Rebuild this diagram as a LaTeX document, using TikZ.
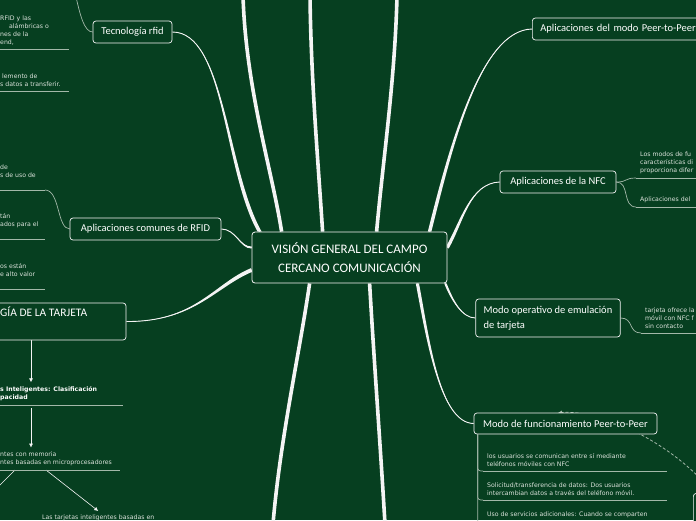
\documentclass[tikz,border=0pt]{standalone}
\usepackage{fontspec}
\setmainfont{DejaVu Sans}
\newfontfamily\handfont{Carlito}
\usetikzlibrary{arrows.meta,calc}

\definecolor{board}{HTML}{063F20}
\definecolor{chalk}{HTML}{F4F4F4}
\definecolor{leaftext}{HTML}{DCE3DC}
\definecolor{rule}{HTML}{A3B8A9}

\pgfdeclarelayer{links}
\pgfsetlayers{links,main}

% tapered branch: thin at the topic, wide at the centre
\newcommand{\taperto}[5]{%
  \fill[chalk] (#1) .. controls (#2) and ($(#3)+(#5)$) .. ($(#4)+(#5)$)
    -- ($(#4)-(#5)$) .. controls ($(#3)-(#5)$) and (#2) .. (#1) -- cycle;
  \draw[chalk, line width=0.9pt] (#1) .. controls (#2) and (#3) .. (#4);}

\tikzset{
  rule line/.style={draw=rule, line width=0.7pt},
  twig/.style={rule line},
  trunk/.style={draw=chalk, line width=3.6pt},
  flow/.style={draw=chalk, line width=0.6pt, -{Latex[length=4pt,width=4pt]}},
  link/.style={draw=rule, line width=0.8pt, dash pattern=on 3pt off 2pt, -{Latex[length=4pt,width=4pt]}},
}

\begin{document}
\begin{tikzpicture}[x=1pt, y=-1pt,
    hub/.style={draw=chalk, line width=0.8pt, fill=board, rounded corners=3pt, text=white,
      font=\handfont\fontsize{13}{19}\selectfont, align=center, minimum width=195pt, minimum height=51pt},
    topic/.style={draw=chalk, line width=0.7pt, fill=board, rounded corners=3pt, text=white,
      font=\handfont\fontsize{10.5}{15}\selectfont, inner xsep=8pt, minimum height=22pt},
    leaf/.style={font=\fontsize{6.2}{8}\selectfont, text=leaftext, align=left, anchor=south west,
      inner xsep=4pt, inner ysep=4pt,
      append after command={(\tikzlastnode.south west) edge[rule line] ([xshift=#1]\tikzlastnode.south west)}}]
    \useasboundingbox (0,0) rectangle (696,520);
    \clip (0,0) rectangle (696,520);

    \node[hub] (hub) at (349.5,257.5) {VISIÓN GENERAL DEL CAMPO\\CERCANO COMUNICACIÓN};

    % topics
    \node[topic, minimum width=79pt] (rfid) at (132.5,32) {Tecnología rfid};
    \node[topic, minimum width=151pt] (crfid) at (145.5,229) {Aplicaciones comunes de RFID};
    \node[topic, minimum width=166pt, minimum height=37pt] (tarjeta) at (43,321.5) {};
    \node[text=white, font=\handfont\fontsize{11.5}{15}\selectfont, anchor=base west, inner sep=0pt] (tarjetaname) at (0,316.5) {GÍA DE LA TARJETA};
    \node[topic, anchor=west, text width=170pt, align=left] (p2papps) at (532,29) {Aplicaciones del modo Peer-to-Peer};
    \node[topic, minimum width=116pt] (nfc) at (558,182) {Aplicaciones de la NFC};
    \node[topic, align=left, minimum width=142pt, minimum height=38pt] (emul) at (548,318) {Modo operativo de emulación\\de tarjeta};
    \node[topic, minimum width=183pt, minimum height=21pt] (p2pmode) at (565.5,423.5) {Modo de funcionamiento Peer-to-Peer};
    \node[topic, minimum width=40pt, minimum height=40pt, anchor=north west] (peerbox) at (693,493) {};

    % leaves on the left
    \node[leaf=73] (rfidA) at (-4,49) {RFID y las\\\hspace*{9pt}alámbricas o\\nes de la\\end,};
    \node[leaf=73] (rfidB) at (-4,91) {\hspace*{2pt}lemento de\\s datos a transferir.};
    \node[leaf=49] (usoA) at (-4,190) {de\\s de uso de\\\mbox{}};
    \node[leaf=49] (paraA) at (-4,239) {tán\\ados para el\\\mbox{}};
    \node[leaf=49] (valorA) at (-4,289) {os están\\e alto valor\\\mbox{}};
    \node[leaf=127, font=\bfseries\fontsize{6.2}{8}\selectfont, text=white] (clasif) at (-4,405) {s Inteligentes: Clasificación\\pacidad};
    \node[leaf=124] (mem) at (-4,470) {ntes con memoria\\ntes basadas en microprocesadores};
    \node[leaf=200, anchor=north west] (micro) at (38,511) {Las tarjetas inteligentes basadas en};

    % leaves on the right
    \node[leaf=64] (nfcA) at (636,178) {Los modos de fu\\características di\\proporciona difer};
    \node[leaf=64] (nfcB) at (636,207) {Aplicaciones del};
    \node[leaf=60] (cardA) at (641,333) {tarjeta ofrece la\\móvil con NFC f\\sin contacto};
    \node[leaf=184] (p2pA) at (483,471) {los usuarios se comunican entre sí mediante\\teléfonos móviles con NFC};
    \node[leaf=184] (p2pB) at (483,500) {Solicitud/transferencia de datos: Dos usuarios\\intercambian datos a través del teléfono móvil.};
    \node[leaf=184] (p2pC) at (483,529) {Uso de servicios adicionales: Cuando se comparten\\\mbox{}};

    % where the branches meet the centre
    \coordinate (hubB) at ([xshift=8pt]hub.north west);
    \coordinate (hub2) at ([xshift=30pt]hub.north west);
    \coordinate (hub3) at ([xshift=71pt]hub.north west);
    \coordinate (hub4) at ([xshift=125pt]hub.north west);
    \coordinate (hubE) at ([xshift=178pt]hub.north west);
    \coordinate (hubF) at ([yshift=10pt]hub.east);
    \coordinate (hubG) at ([xshift=-2pt]hub.south east);
    \coordinate (hubH) at ([xshift=-30pt]hub.south east);
    \coordinate (hub5) at ([xshift=58pt]hub.south west);
    \coordinate (hub6) at ([xshift=118pt]hub.south west);
    \coordinate (hubC) at ([yshift=10pt]hub.west);
    \coordinate (hubD) at ([yshift=-12.5pt]hub.west);

    % free ends outside the picture
    \coordinate (rfidup) at (76,-3);
    \coordinate (top1) at (243,-4);
    \coordinate (top2) at (310,-4);
    \coordinate (top3) at (397,-4);
    \coordinate (bot1) at (273,524);
    \coordinate (bot2) at (385,524);
    \coordinate (memleft) at (-6,491);
    \coordinate (col) at (31,0);

    \begin{pgfonlayer}{links}
        \fill[board] (0,0) rectangle (696,520);

        \draw[trunk] (top1) .. controls (246,90) and (272,170) .. (hub2);
        \draw[trunk] (top2) .. controls (311,80) and (318,160) .. (hub3);
        \draw[trunk] (top3) .. controls (395,80) and (383,160) .. (hub4);
        \draw[trunk] (hub5) .. controls (300,350) and (280,440) .. (bot1);
        \draw[trunk] (hub6) .. controls (374,360) and (380,440) .. (bot2);

        \taperto{rfid.east}{225,32}{225,170}{hubB}{2,0}
        \taperto{p2papps.west}{480,30}{450,150}{hubE}{1.8,0}
        \taperto{nfc.west}{470,183}{462,222}{hubF}{1.3,1}
        \taperto{emul.west}{462,318}{452,300}{hubG}{1.2,0}
        \taperto{p2pmode.west}{440,423}{428,340}{hubH}{1.6,0}
        \taperto{crfid.east}{236,229}{240,248}{hubC}{0,1}
        \taperto{tarjeta.east}{195,322}{215,285}{hubD}{0.7,1.8}

        \draw[twig] (rfid.west) .. controls (84,32) and (80,14) .. (rfidup);
        \draw[twig] (crfid.west) .. controls (57,229) and (60,190) .. ([xshift=49pt]usoA.south west);
        \draw[twig] (nfc.east) .. controls (628,182) and (624,178) .. (nfcA.south west);
        \draw[twig] (nfc.east) .. controls (630,182) and (622,207) .. (nfcB.south west);
        \draw[twig] (emul.east) .. controls (634,318) and (628,333) .. (cardA.south west);
        \draw[twig, rounded corners=3pt] ([xshift=4pt]p2pmode.south west) |- (p2pA.south west);
        \draw[twig, rounded corners=3pt] ([xshift=4pt]p2pmode.south west) |- (p2pB.south west);
        \draw[twig, rounded corners=3pt] ([xshift=4pt]p2pmode.south west) |- (p2pC.south west);

        \draw[flow] (tarjeta.south -| col) -- (clasif.north -| col);
        \draw[flow, shorten <=3pt] (clasif.south -| col) -- (mem.north -| col);
        \draw[flow] ([xshift=19pt]mem.south west) -- (memleft);
        \draw[flow] ([xshift=50pt]mem.south west) -- (micro.north);

        \draw[link] (peerbox.north) .. controls (670,440) and (600,410) .. ([xshift=-7.5pt]p2pmode.north);
    \end{pgfonlayer}
\end{tikzpicture}
\end{document}
